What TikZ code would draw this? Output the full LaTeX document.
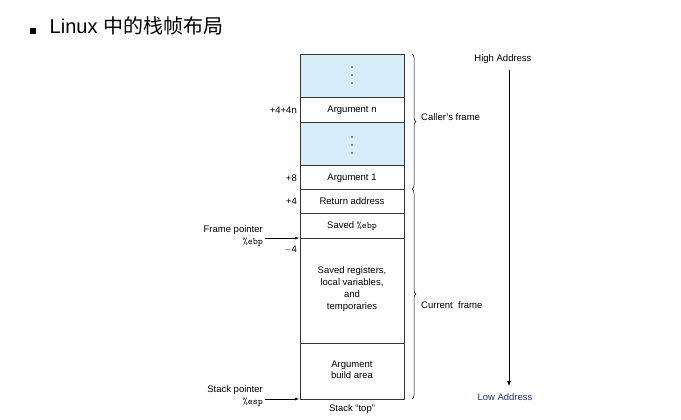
\documentclass[tikz,border=0pt]{standalone}
\usepackage{fontspec}
\setmainfont{Liberation Sans}
\newfontfamily\cjk{Noto Sans CJK SC}
\usetikzlibrary{decorations.pathreplacing,arrows.meta}
\definecolor{cellblue}{RGB}{214,238,250}
\definecolor{lowblue}{RGB}{30,50,120}
\begin{document}
\begin{tikzpicture}[x=1pt,y=-1pt,
  cell/.style={draw=black!80,line width=0.6pt},
  lbl/.style={font=\fontsize{9.5}{11}\selectfont,align=center,inner sep=0},
  off/.style={font=\fontsize{9.5}{11}\selectfont,anchor=east,inner sep=0},
  brace/.style={decorate,decoration={brace,amplitude=4pt},line width=0.5pt},
  ptr/.style={-{Latex[length=4pt,width=3pt]},line width=0.5pt},
  dot/.style={circle,fill=black!80,inner sep=0,minimum size=1.6pt}]
\useasboundingbox (0,0) rectangle (681,420);
\node[anchor=west,inner sep=0,font=\fontsize{20}{24}\selectfont] (title) at (30,26) {\rule{5.5pt}{5.5pt}\hspace{14pt}Linux {\cjk 中的栈帧布局}};
% cells
\fill[cellblue] (300,54) rectangle (404,97);
\fill[cellblue] (300,122) rectangle (404,165);
\draw[cell] (300,54) rectangle (404,399);
\foreach \y in {97,122,165,189,213,238,343} \draw[cell] (300,\y) -- (404,\y);
\foreach \y in {67,75,83} \node[dot] at (352,\y) {};
\foreach \y in {137,145,153} \node[dot] at (352,\y) {};
\node[lbl] (argn) at (352,110) {Argument n};
\node[lbl] (arg1) at (352,178) {Argument 1};
\node[lbl] (ret) at (352,201) {Return address};
\node[lbl] (sebp) at (352,226) {Saved \texttt{\%ebp}};
\node[lbl,font=\fontsize{9.5}{11.8}\selectfont] (regs) at (352,289) {Saved registers,\\local variables,\\and\\temporaries};
\node[lbl,font=\fontsize{9.5}{11.5}\selectfont] (build) at (352,370) {Argument\\build area};
\node[lbl] (top) at (352,409) {Stack ``top''};
% offsets
\node[off] (o1) at (297,110) {+4+4n};
\node[off] (o2) at (297,178) {+8};
\node[off] (o3) at (297,201) {+4};
\node[off] (o4) at (297,250) {$-$4};
% pointers
\node[lbl,anchor=east,align=right,font=\fontsize{9.5}{12.5}\selectfont] (fp) at (263,236) {Frame pointer\\\texttt{\%ebp}};
\node[lbl,anchor=east,align=right,font=\fontsize{9.5}{12.5}\selectfont] (sp) at (263,396) {Stack pointer\\\texttt{\%esp}};
\coordinate (fpa) at (265,238); \coordinate (fpb) at (299,238);
\coordinate (spa) at (265,399); \coordinate (spb) at (299,399);
\draw[ptr] (fpa) -- (fpb);
\draw[ptr] (spa) -- (spb);
% braces
\draw[brace] (412,54) -- (412,189);
\draw[brace] (412,189) -- (412,399);
\node[lbl,anchor=west] (caller) at (421,117) {Caller's frame};
\node[lbl,anchor=west] (cur) at (421,305) {Current\ \ frame};
% address arrow
\node[lbl] (high) at (503,59) {High Address};
\node[lbl,text=lowblue] (low) at (505,397) {Low Address};
\draw[-{Latex[length=5pt,width=4pt]},line width=0.6pt] (509,70) -- (509,386);
\end{tikzpicture}
\end{document}
